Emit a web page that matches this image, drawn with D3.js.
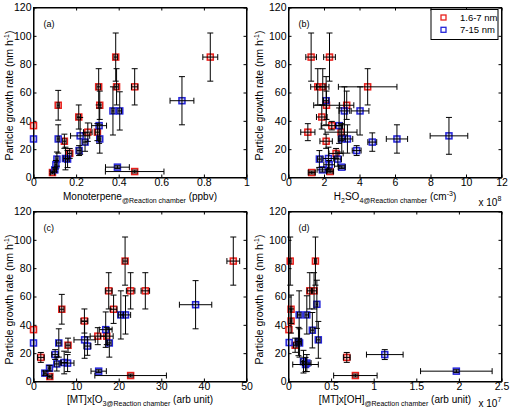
<!DOCTYPE html>
<html>
<head>
<script src="https://cdnjs.cloudflare.com/ajax/libs/d3/7.8.5/d3.min.js"></script>
<style>
  body { margin: 0; background: #fff; }
  text { font-family: "Liberation Sans", Arial, sans-serif; fill: #000; }
</style>
</head>
<body>
<script>
// each point: [x, y, xerr, yerr]
const yTicks = [0, 20, 40, 60, 80, 100, 120];

const redA = [
  [0, 36.6, 0, 0], [0.116, 51, 0.005, 10.5], [0.145, 25.6, 0.008, 5], [0.17, 17, 0.01, 3.5],
  [0.2125, 42.7, 0.008, 8.5], [0.255, 32, 0.02, 6.5], [0.306, 64, 0.008, 12.8], [0.311, 51, 0.005, 10],
  [0.30, 32, 0.01, 6], [0.386, 85, 0.008, 17], [0.39, 64, 0.008, 12.8], [0.475, 64, 0.015, 12.8],
  [0.83, 85, 0.035, 17], [0.475, 4.2, 0.1375, 1], [0.089, 3.5, 0.01, 1]
];
const blueA = [
  [0, 27.2, 0, 0], [0.116, 27.2, 0.005, 10], [0.11, 13, 0.005, 5], [0.105, 9, 0.005, 3],
  [0.10, 5.4, 0.008, 1.5], [0.15, 13.4, 0.01, 8], [0.16, 13, 0.008, 6], [0.219, 29.4, 0.045, 13],
  [0.214, 19, 0.01, 3.5], [0.242, 25, 0.01, 6.5], [0.308, 36.6, 0.035, 12.5], [0.311, 27.2, 0.005, 10],
  [0.373, 47, 0.005, 17], [0.405, 47, 0.008, 13.5], [0.697, 54.2, 0.056, 17], [0.394, 7.3, 0.056, 1]
];

// x in units of 10^8 cm^-3
const redB = [
  [1.275, 85, 0.3, 17], [2.31, 85, 0.33, 17], [1.65, 64, 0.4, 12.8], [1.93, 64, 0.35, 12.8],
  [4.46, 64, 1.65, 12.8], [2.14, 51, 0.72, 10], [3.28, 51, 0.4, 10], [1.875, 42.7, 0.3, 8.5],
  [2.44, 36.6, 0.6, 3], [1.09, 32, 0.4, 6], [2.96, 32, 0.9, 6], [2.12, 25.6, 0.35, 5],
  [2.68, 17, 0.4, 3.5], [1.31, 3.5, 0.2, 1], [2.34, 4.2, 0.2, 1]
];
const blueB = [
  [2.12, 54.2, 0.15, 17], [3.15, 47, 0.3, 17], [4.03, 47, 0.5, 17], [2.85, 36.6, 0.2, 12.5],
  [9.04, 29.4, 1.06, 13], [3.0, 27.2, 0.2, 10], [3.32, 27.2, 0.3, 10], [6.11, 27.2, 0.6, 10],
  [4.72, 25, 0.25, 6.5], [3.84, 19, 0.25, 3.5], [1.74, 13, 0.1, 6], [2.25, 13.4, 0.3, 8],
  [2.78, 13, 0.2, 5], [2.29, 9, 0.3, 3], [1.91, 5.4, 0.3, 1.5], [3.0, 7.3, 0.2, 1]
];

const redC = [
  [0, 36.6, 0, 0], [1.72, 17, 0.8, 3.5], [3.83, 3.5, 0.5, 1], [6.64, 51, 0.5, 10.5],
  [8.1, 25.6, 0.5, 5], [11.95, 42.7, 0.8, 8.5], [15.1, 32, 1.8, 6], [17.2, 32, 1.5, 6],
  [17.66, 64, 0.8, 12.8], [18.8, 51, 0.8, 10], [21.5, 85, 0.5, 17], [22.8, 64, 1.0, 12.8],
  [26.25, 64, 1.0, 12.8], [46.9, 85, 1.5, 17], [22.8, 4.2, 8.4, 1]
];
const blueC = [
  [0, 27.2, 0, 0], [2.66, 5.9, 0.3, 1.5], [3.75, 9.4, 0.3, 2], [5.08, 19, 0.8, 3.5],
  [5.47, 12.4, 0.5, 5], [5.94, 27.2, 0.5, 10], [7.2, 13.4, 0.8, 8], [8.0, 13, 1.5, 6],
  [12.0, 29.4, 2.5, 13], [12.66, 25, 0.8, 6.5], [15.3, 7.3, 1.8, 1], [16.95, 36.6, 1.5, 12.5],
  [17.8, 27.2, 0.4, 10], [20.5, 47, 0.6, 17], [21.6, 47, 1.2, 13.5], [38.05, 54.2, 3.8, 17]
];

// x in units of 10^7
const redD = [
  [0.02, 85, 0.01, 17], [0.316, 85, 0.01, 17], [0.25, 64, 0.03, 12.8], [0.30, 64, 0.03, 12.8],
  [0.03, 51, 0.01, 10], [0.03, 42.7, 0.01, 8.5], [0.005, 36.6, 0, 0], [0.078, 25.6, 0.02, 5],
  [0.684, 17, 0.04, 3.5], [0.785, 4.2, 0.255, 1]
];
const blueD = [
  [0.008, 27.5, 0, 0], [0.125, 47, 0.02, 17], [0.215, 47, 0.02, 13.5], [0.333, 54.5, 0.01, 17],
  [0.28, 36.2, 0.02, 12.5], [0.35, 29.4, 0.02, 13], [0.117, 28.2, 0.03, 10], [0.13, 27.2, 0.02, 10],
  [0.176, 14, 0.03, 8], [0.215, 13, 0.05, 6], [0.2, 12, 0.15, 5], [1.13, 19, 0.215, 3.5],
  [1.97, 7.3, 0.42, 1]
];

const red = "#e8201c";
const blue = "#2424d8";

const svg = d3.select("body").append("svg")
  .attr("width", 530).attr("height", 408);

const panels = [
  { tag: "(a)", left: 33.5, top: 7.5, xmax: 1, xticks: [0, 0.2, 0.4, 0.6, 0.8, 1], r: redA, b: blueA,
    ylabX: 9, labY: 22, label: [["Monoterpene", 0], ["@Reaction chamber", 1], [" (ppbv)", 0]] },
  { tag: "(b)", left: 288.5, top: 7.5, xmax: 12, xticks: [0, 2, 4, 6, 8, 10, 12], r: redB, b: blueB,
    ylabX: 259, labY: 22, label: [["H", 0], ["2", 1], ["SO", 0], ["4@Reaction chamber", 1], [" (cm", 0], ["-3", 2], [")", 0]],
    exp: "8", expY: 28.5 },
  { tag: "(c)", left: 33.5, top: 211.5, xmax: 50, xticks: [0, 10, 20, 30, 40, 50], r: redC, b: blueC,
    ylabX: 9, labY: 21.5, label: [["[MT]x[O", 0], ["3@Reaction chamber", 1], [" (arb unit)", 0]] },
  { tag: "(d)", left: 288.5, top: 211.5, xmax: 2.5, xticks: [0, 0.5, 1, 1.5, 2, 2.5], r: redD, b: blueD,
    ylabX: 259, labY: 21.5, label: [["[MT]x[OH]", 0], ["@Reaction chamber", 1], [" (arb unit)", 0]],
    exp: "7", expY: 25.5 }
];

const W = 213, H = 170;

panels.forEach(p => {
  const g = svg.append("g").attr("transform", `translate(${p.left},${p.top})`);
  const x = d3.scaleLinear().domain([0, p.xmax]).range([0, W]);
  const y = d3.scaleLinear().domain([0, 120]).range([H, 0]);

  // axes, ticks pointing inward like the matlab box
  g.append("g").attr("transform", `translate(0,${H})`)
    .call(d3.axisBottom(x).tickValues(p.xticks).tickSizeInner(-3).tickSizeOuter(0).tickPadding(1.5).tickFormat(d => d));
  g.append("g")
    .call(d3.axisLeft(y).tickValues(yTicks).tickSizeInner(-3).tickSizeOuter(0).tickPadding(2));
  g.append("g")
    .call(d3.axisTop(x).tickValues(p.xticks).tickSizeInner(-3).tickSizeOuter(0).tickFormat(""));
  g.append("g").attr("transform", `translate(${W},0)`)
    .call(d3.axisRight(y).tickValues(yTicks).tickSizeInner(-3).tickSizeOuter(0).tickFormat(""));
  g.selectAll(".domain").attr("stroke", "#000");
  g.selectAll(".tick line").attr("stroke", "#000");
  g.selectAll(".tick text").attr("font-size", 10.5).attr("font-family", "Liberation Sans, Arial, sans-serif");

  const plot = g.append("g");
  const drawSeries = (data, col) => {
    plot.selectAll(null).data(data).enter().append("rect")
      .attr("x", d => x(d[0]) - 3).attr("y", d => y(d[1]) - 3)
      .attr("width", 6).attr("height", 6)
      .attr("fill", col).attr("fill-opacity", 0.25)
      .attr("stroke", col).attr("stroke-width", 1.5);
  };
  drawSeries(p.r, red);
  drawSeries(p.b, blue);

  // black error bars on top
  const all = p.r.concat(p.b);
  const bars = g.append("g").attr("stroke", "#000").attr("stroke-width", 1);
  all.forEach(d => {
    const cx = x(d[0]), cy = y(d[1]);
    if (d[3] > 0) {
      const y1 = y(d[1] + d[3]), y2 = y(d[1] - d[3]);
      bars.append("line").attr("x1", cx).attr("x2", cx).attr("y1", y1).attr("y2", y2);
      bars.append("line").attr("x1", cx - 3).attr("x2", cx + 3).attr("y1", y1).attr("y2", y1);
      bars.append("line").attr("x1", cx - 3).attr("x2", cx + 3).attr("y1", y2).attr("y2", y2);
    }
    if (d[2] > 0) {
      const x1 = x(d[0] - d[2]), x2 = x(d[0] + d[2]);
      bars.append("line").attr("x1", x1).attr("x2", x2).attr("y1", cy).attr("y2", cy);
      bars.append("line").attr("x1", x1).attr("x2", x1).attr("y1", cy - 3).attr("y2", cy + 3);
      bars.append("line").attr("x1", x2).attr("x2", x2).attr("y1", cy - 3).attr("y2", cy + 3);
    }
  });

  g.append("rect").attr("width", W).attr("height", H)
    .attr("fill", "none").attr("stroke", "#000").attr("stroke-width", 1);

  g.append("text").attr("x", 10).attr("y", 19).attr("font-size", 9).text(p.tag);

  // y label
  const yl = svg.append("text")
    .attr("transform", `translate(${p.ylabX + 4},${p.top + 88}) rotate(-90)`)
    .attr("text-anchor", "middle").attr("font-size", 10.5);
  yl.append("tspan").text("Particle growth rate (nm h");
  yl.append("tspan").attr("dy", -4).attr("font-size", 7).text("-1");
  yl.append("tspan").attr("dy", 4).text(")");

  // x label with sub/superscripts
  const xl = g.append("text").attr("x", W / 2).attr("y", H + p.labY)
    .attr("text-anchor", "middle").attr("font-size", 10);
  let shift = 0;
  p.label.forEach(([s, k]) => {
    const target = k === 1 ? 3 : k === 2 ? -4 : 0;
    xl.append("tspan").attr("dy", target - shift)
      .attr("font-size", k === 0 ? 10 : 7).text(s);
    shift = target;
  });

  if (p.exp) {
    const ex = g.append("text").attr("x", W - 23).attr("y", H + p.expY).attr("font-size", 10);
    ex.append("tspan").text("x 10");
    ex.append("tspan").attr("dy", -5).attr("font-size", 7).text(p.exp);
  }
});

// legend in panel (b)
const leg = svg.append("g").attr("transform", "translate(431,9.5)");
leg.append("rect").attr("width", 67).attr("height", 30)
  .attr("fill", "#fff").attr("stroke", "#000").attr("stroke-width", 1);
const legItems = [["1.6-7 nm", red], ["7-15 nm", blue]];
legItems.forEach(([name, col], i) => {
  leg.append("rect").attr("x", 10).attr("y", 8 + i * 12.3 - 2.5)
    .attr("width", 5).attr("height", 5).attr("fill", "none").attr("stroke", col).attr("stroke-width", 1.3);
  leg.append("text").attr("x", 29).attr("y", 11.5 + i * 12.3).attr("font-size", 9.5).text(name);
});
</script>
</body>
</html>
